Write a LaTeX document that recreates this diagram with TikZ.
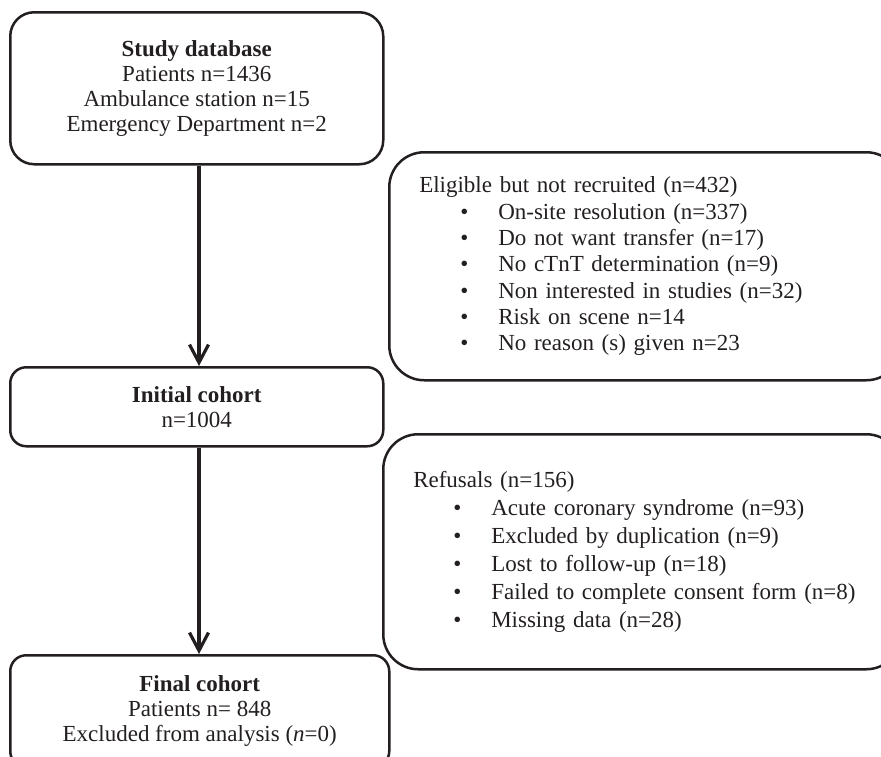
\documentclass[tikz,border=0pt]{standalone}
\usepackage{fontspec}
\setmainfont{Liberation Serif}
\usetikzlibrary{arrows.meta}
\definecolor{ink}{RGB}{35,31,32}
\newcommand\itemA{\hspace*{41pt}\makebox[38pt][l]{\textbullet}}
\newcommand\itemB{\hspace*{40pt}\makebox[38pt][l]{\textbullet}}
\begin{document}
\begin{tikzpicture}[x=1pt,y=-1pt,
  box/.style={draw=ink, line width=2.5pt, text=ink, align=center, font=\fontsize{23}{25}\selectfont, inner sep=0pt, anchor=north west},
  rbox/.style={draw=ink, line width=2.5pt, text=ink, align=left, rounded corners=35pt, anchor=north west, inner xsep=30pt, inner ysep=0pt},
  arr/.style={draw=ink, line width=3.2pt, -{Straight Barb[length=18pt,width=19pt]}}]
\useasboundingbox (0,0) rectangle (881,756);
\clip (0,0) rectangle (881,756);
\coordinate (ax) at (199,0);
\node[box, rounded corners=24pt, minimum width=373pt, minimum height=152pt] (db) at (9,11)
  {\textbf{Study database}\\Patients n=1436\\Ambulance station n=15\\Emergency Department n=2};
\node[box, rounded corners=16pt, minimum width=373pt, minimum height=79pt] (init) at (9,366)
  {\textbf{Initial cohort}\\n=1004};
\node[box, rounded corners=16pt, minimum width=379pt, minimum height=112pt] (fin) at (9,654)
  {\textbf{Final cohort}\\Patients n= 848\\Excluded from analysis (\textit{n}=0)};
\node[rbox, text width=452pt, minimum height=228pt, font=\fontsize{23}{26.3}\selectfont] (elig) at (388,151)
  {Eligible but not recruited (n=432)\\
   \itemA On-site resolution (n=337)\\
   \itemA Do not want transfer (n=17)\\
   \itemA No cTnT determination (n=9)\\
   \itemA Non interested in studies (n=32)\\
   \itemA Risk on scene n=14\\
   \itemA No reason (s) given n=23};
\node[rbox, text width=458pt, minimum height=235pt, font=\fontsize{23}{28}\selectfont] (ref) at (382,433)
  {Refusals (n=156)\\
   \itemB Acute coronary syndrome (n=93)\\
   \itemB Excluded by duplication (n=9)\\
   \itemB Lost to follow-up (n=18)\\
   \itemB Failed to complete consent form (n=8)\\
   \itemB Missing data (n=28)};
\draw[arr] (db.south -| ax) -- (init.north -| ax);
\draw[arr] (init.south -| ax) -- (fin.north -| ax);
\end{tikzpicture}
\end{document}
